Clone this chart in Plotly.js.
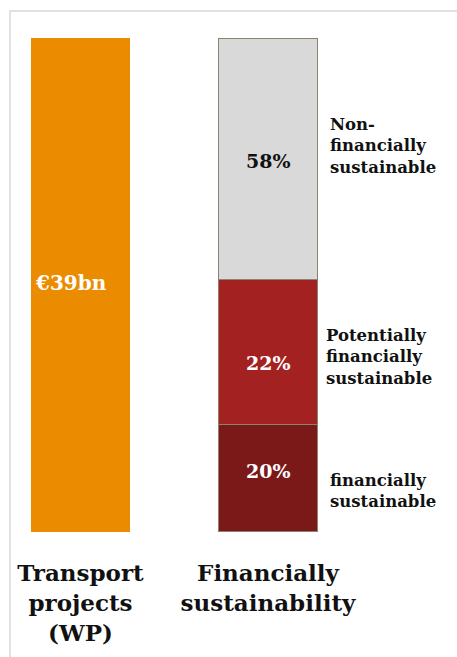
<!DOCTYPE html>
<html>
<head>
<meta charset="utf-8">
<script src="https://cdn.plot.ly/plotly-3.0.1.min.js"></script>
<style>
  html, body { margin: 0; padding: 0; background: #fff; overflow: hidden; }
  #frame { position: absolute; left: 9px; top: 10px; width: 448px; height: 647px;
           border-left: 2px solid #e2e2e2; border-top: 2px solid #e2e2e2; box-sizing: border-box; }
  #chart { position: absolute; left: 0; top: 0; width: 457px; height: 657px; }
</style>
</head>
<body>
<div id="frame"></div>
<div id="chart"></div>
<script>
// ---- data ----
const categories = ['Transport<br>projects<br>(WP)', 'Financially<br>sustainability'];
const transportShare = [100];
const transportLabel = '€39bn';
const segmentNames = ['financially<br>sustainable', 'Potentially<br>financially<br>sustainable', 'Non-<br>financially<br>sustainable'];
const segmentShares = [21.7, 29.4, 48.9];   // drawn heights
const segmentLabels = ['20%', '22%', '58%'];
const segmentColors = ['#7B1919', '#A32121', '#D9D9D9'];
const segmentTextColors = ['#ffffff', '#ffffff', '#111111'];

const FONT = 'DejaVu Serif';

const traces = [{
  type: 'bar', x: [categories[0]], y: transportShare, width: 0.53,
  marker: { color: '#EB8C00', line: { width: 0 } }, hoverinfo: 'skip', showlegend: false
}];
segmentShares.forEach((v, i) => {
  traces.push({
    type: 'bar', x: [categories[1]], y: [v], width: 0.53, name: segmentNames[i],
    marker: { color: segmentColors[i], line: { color: '#8B8270', width: 1.2 } },
    hoverinfo: 'skip', showlegend: false
  });
});

const annotations = [];
annotations.push({
  x: categories[0], y: transportShare[0] / 2, xref: 'x', yref: 'y', text: '<b>' + transportLabel + '</b>',
  showarrow: false, xshift: -9, yshift: 2,
  font: { family: FONT, size: 20, color: '#ffffff' }
});
const labelYShift = [7, -10.5, -2.7];
const nameYShift = [-13, -4.5, 13];
const nameXShift = [60, 56, 60];
let cum = 0;
segmentShares.forEach((v, i) => {
  const mid = cum + v / 2;
  cum += v;
  annotations.push({
    x: categories[1], y: mid, xref: 'x', yref: 'y', text: '<b>' + segmentLabels[i] + '</b>', showarrow: false,
    yshift: labelYShift[i],
    font: { family: FONT, size: 19, color: segmentTextColors[i] }
  });
  annotations.push({
    x: categories[1], y: mid, xref: 'x', yref: 'y', text: '<b>' + segmentNames[i] + '</b>', showarrow: false,
    xanchor: 'left', align: 'left', xshift: nameXShift[i], yshift: nameYShift[i],
    font: { family: FONT, size: 16.5, color: '#111111' }
  });
});

const layout = {
  width: 457, height: 657,
  margin: { l: 0, r: 0, t: 38, b: 124.5 },
  paper_bgcolor: 'rgba(0,0,0,0)', plot_bgcolor: 'rgba(0,0,0,0)',
  barmode: 'stack', bargap: 0,
  font: { family: FONT },
  xaxis: {
    type: 'category', range: [-0.4293, 2.008], showgrid: false, zeroline: false,
    showline: false, ticks: '', fixedrange: true, ticklabelstandoff: 25,
    tickfont: { family: FONT, size: 23, color: '#111111' },
    tickvals: categories, ticktext: categories.map(c => '<b>' + c.split('<br>').join('</b><br><b>') + '</b>')
  },
  yaxis: { range: [0, 100], showgrid: false, zeroline: false, showline: false,
           showticklabels: false, ticks: '', fixedrange: true },
  annotations: annotations,
  showlegend: false
};

Plotly.newPlot('chart', traces, layout, { displayModeBar: false, staticPlot: true });
</script>
</body>
</html>
